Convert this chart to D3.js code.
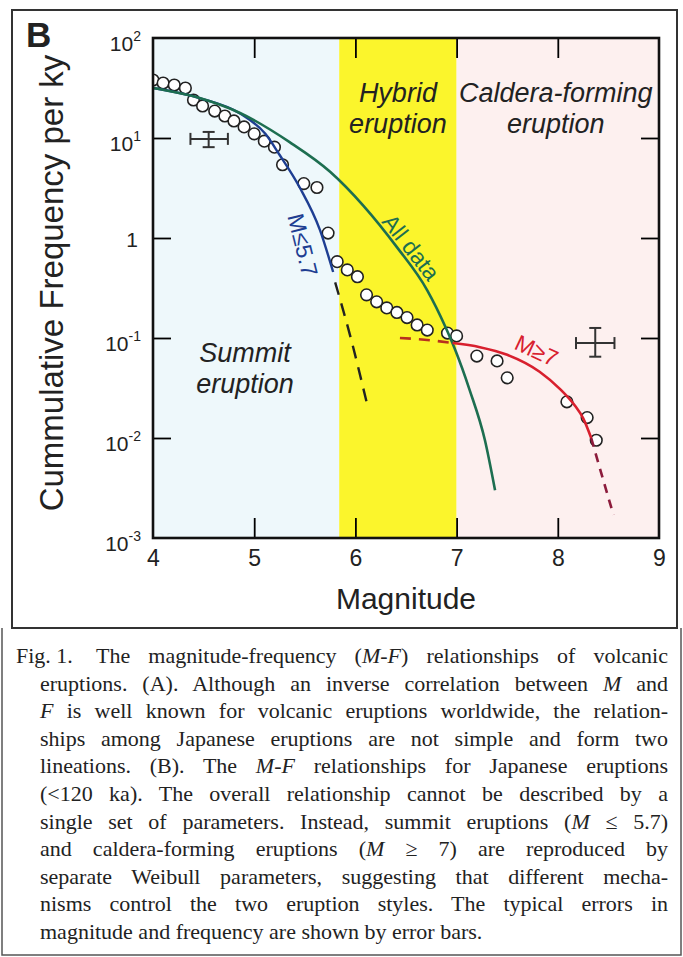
<!DOCTYPE html>
<html>
<head>
<meta charset="utf-8">
<script src="https://cdn.jsdelivr.net/npm/d3@7"></script>
<style>
body { margin: 0; background: #fff; }
svg { display: block; }
</style>
</head>
<body>
<div id="chartsArea"></div>
<script>
// axis ticks
var xTicks = [4, 5, 6, 7, 8, 9];
var yTicks = [1e-3, 1e-2, 1e-1, 1, 1e1, 1e2];

// eruption style regions (magnitude)
var regionStart = [4, 5.84, 7];
var regionEnd = [5.84, 7, 9];

// observed cumulative frequencies
var obsM = [4.00, 4.10, 4.21, 4.32, 4.40, 4.49, 4.61, 4.71, 4.80, 4.90, 5.00, 5.10, 5.20, 5.28, 5.49, 5.62,
	5.73, 5.82, 5.92, 6.02, 6.11, 6.21, 6.31, 6.41, 6.51, 6.61, 6.71, 6.91, 7.00, 7.20, 7.40, 7.50, 8.09, 8.29, 8.38];
var obsF = [38.0, 35.5, 33.9, 31.6, 24.0, 20.9, 18.6, 16.6, 14.8, 12.9, 11.0, 9.3, 8.1, 5.4, 3.5, 3.2,
	1.12, 0.58, 0.48, 0.41, 0.27, 0.23, 0.20, 0.18, 0.16, 0.135, 0.12, 0.112, 0.105, 0.066, 0.059, 0.040, 0.023, 0.016, 0.0095];

// fitted curves
var allM = [4.00, 4.46, 4.86, 5.35, 5.75, 6.08, 6.41, 6.71, 6.89, 6.98, 7.13, 7.28, 7.38];
var allF = [31.6, 25.1, 17.8, 9.1, 4.6, 2.1, 0.81, 0.30, 0.129, 0.079, 0.030, 0.0095, 0.0030];

var summitM = [4.00, 4.46, 4.86, 5.11, 5.25, 5.45, 5.65, 5.78];
var summitF = [31.6, 25.1, 17.6, 11.0, 6.8, 3.2, 1.2, 0.457];
var summitExtM = [5.80, 5.96, 6.11];
var summitExtF = [0.36, 0.095, 0.023];

var calderaLowM = [6.44, 6.74, 6.96];
var calderaLowF = [0.100, 0.095, 0.089];
var calderaM = [6.96, 7.23, 7.50, 7.82, 8.02, 8.17, 8.25, 8.33];
var calderaF = [0.089, 0.081, 0.068, 0.046, 0.031, 0.021, 0.0158, 0.0100];
var calderaHighM = [8.33, 8.42, 8.55];
var calderaHighF = [0.0100, 0.0048, 0.0017];

// typical errors
var errM = [4.55, 8.37];
var errMLo = [4.37, 8.18];
var errMHi = [4.74, 8.56];
var errF = [9.8, 0.089];
var errFLo = [8.1, 0.065];
var errFHi = [11.5, 0.126];

// caption, one entry per printed line; |...| parts are italic
var caption = [
	"The magnitude-frequency (|M-F|) relationships of volcanic",
	"eruptions. (A). Although an inverse correlation between |M| and",
	"|F| is well known for volcanic eruptions worldwide, the relation-",
	"ships among Japanese eruptions are not simple and form two",
	"lineations. (B). The |M-F| relationships for Japanese eruptions",
	"(<120 ka). The overall relationship cannot be described by a",
	"single set of parameters. Instead, summit eruptions (|M| \u2264 5.7)",
	"and caldera-forming eruptions (|M| \u2265 7) are reproduced by",
	"separate Weibull parameters, suggesting that different mecha-",
	"nisms control the two eruption styles. The typical errors in",
	"magnitude and frequency are shown by error bars."
];

var makeChart = function() {

	var W = 683, H = 957;
	var plot = {left: 153, top: 38, width: 506, height: 500};

	var svg = d3.select("#chartsArea").append("svg")
		.attr("width", W)
		.attr("height", H)
		.attr("font-family", "'Liberation Sans', Arial, sans-serif");

	var x = d3.scaleLinear().domain([4, 9]).range([plot.left, plot.left + plot.width]);
	var y = d3.scaleLog().domain([1e-3, 1e2]).range([plot.top + plot.height, plot.top]);

	// frames
	svg.append("rect").attr("x", 12).attr("y", 10).attr("width", 665).attr("height", 618)
		.attr("fill", "none").attr("stroke", "#333").attr("stroke-width", 2);
	svg.append("path").attr("d", "M2,628V955H681V628")
		.attr("fill", "none").attr("stroke", "#555").attr("stroke-width", 1.5);

	svg.append("text").attr("x", 26).attr("y", 47)
		.attr("font-size", 35).attr("font-weight", "bold").attr("fill", "#222").text("B");

	// regions
	var regionColor = ["#eef8fb", "#fbf52c", "#fdf0ef"];
	svg.append("g").selectAll("rect")
		.data(regionStart)
		.enter().append("rect")
		.attr("x", function(d) { return x(d); })
		.attr("y", plot.top)
		.attr("width", function(d, i) { return x(regionEnd[i]) - x(d); })
		.attr("height", plot.height)
		.attr("fill", function(d, i) { return regionColor[i]; });

	svg.append("clipPath").attr("id", "clip")
		.append("rect").attr("x", plot.left).attr("y", plot.top)
		.attr("width", plot.width).attr("height", plot.height);

	// region labels
	var regionLabel = function(cx, y1, l1, l2) {
		var t = svg.append("text")
			.attr("font-size", 27).attr("font-style", "italic")
			.attr("text-anchor", "middle").attr("fill", "#222");
		t.append("tspan").attr("x", cx).attr("y", y1).text(l1);
		t.append("tspan").attr("x", cx).attr("y", y1 + 31).text(l2);
	};
	regionLabel(x(6.42), 102, "Hybrid", "eruption");
	regionLabel(x(7.98), 102, "Caldera-forming", "eruption");
	regionLabel(x(4.91), 362, "Summit", "eruption");

	// observed points
	var g = svg.append("g").attr("clip-path", "url(#clip)");
	g.append("g").selectAll("circle")
		.data(obsM)
		.enter().append("circle")
		.attr("cx", function(d) { return x(d); })
		.attr("cy", function(d, i) { return y(obsF[i]); })
		.attr("r", 5.8)
		.attr("fill", "#fff")
		.attr("stroke", "#222")
		.attr("stroke-width", 1.6);

	var line = d3.line()
		.x(function(d) { return x(d[0]); })
		.y(function(d) { return y(d[1]); })
		.curve(d3.curveMonotoneX);

	var drawCurve = function(ms, fs, color, width, dash) {
		var p = g.append("path")
			.datum(d3.zip(ms, fs))
			.attr("d", line)
			.attr("fill", "none")
			.attr("stroke", color)
			.attr("stroke-width", width);
		if (dash) p.attr("stroke-dasharray", dash);
	};
	drawCurve(summitExtM, summitExtF, "#222", 2.4, "13,9");
	drawCurve(calderaLowM, calderaLowF, "#b8301e", 2.6, "11,8");
	drawCurve(calderaHighM, calderaHighF, "#8c1c3c", 2.6, "9,7");
	drawCurve(summitM, summitF, "#1e3e92", 2.4);
	drawCurve(allM, allF, "#1d6e50", 2.6);
	drawCurve(calderaM, calderaF, "#d8202e", 2.6);

	// curve labels
	var curveLabel = function(px, py, angle, txt, color) {
		svg.append("text")
			.attr("transform", "translate(" + px + "," + py + ") rotate(" + angle + ")")
			.attr("text-anchor", "middle").attr("dy", "0.35em")
			.attr("font-size", 23).attr("fill", color).text(txt);
	};
	curveLabel(x(5.48), y(0.85), 76, "M\u22645.7", "#1e3e92");
	curveLabel(x(6.55), y(0.81), 52, "All data", "#1d6e50");
	curveLabel(x(7.79), y(0.075), 25, "M\u22657", "#d8202e");

	// error bars
	var eb = svg.append("g").attr("stroke", "#333").attr("stroke-width", 2);
	errM.forEach(function(m, i) {
		var cy = y(errF[i]), cx = x(m);
		eb.append("line").attr("x1", x(errMLo[i])).attr("x2", x(errMHi[i])).attr("y1", cy).attr("y2", cy);
		eb.append("line").attr("x1", x(errMLo[i])).attr("x2", x(errMLo[i])).attr("y1", cy - 6).attr("y2", cy + 6);
		eb.append("line").attr("x1", x(errMHi[i])).attr("x2", x(errMHi[i])).attr("y1", cy - 6).attr("y2", cy + 6);
		eb.append("line").attr("x1", cx).attr("x2", cx).attr("y1", y(errFLo[i])).attr("y2", y(errFHi[i]));
		eb.append("line").attr("x1", cx - 6).attr("x2", cx + 6).attr("y1", y(errFLo[i])).attr("y2", y(errFLo[i]));
		eb.append("line").attr("x1", cx - 6).attr("x2", cx + 6).attr("y1", y(errFHi[i])).attr("y2", y(errFHi[i]));
	});

	// axes with inward ticks
	var inner = xTicks.slice(1, -1), innerY = yTicks.slice(1, -1);
	svg.append("g").attr("transform", "translate(0," + (plot.top + plot.height) + ")")
		.call(d3.axisBottom(x).tickValues(xTicks).tickSizeInner(-20).tickSizeOuter(0).tickPadding(12).tickFormat(d3.format("d")))
		.call(function(a) {
			a.select(".domain").remove();
			a.selectAll(".tick line").attr("stroke-width", 1.8).attr("display", function(d) { return inner.indexOf(d) < 0 ? "none" : null; });
			a.selectAll("text").attr("font-size", 23).attr("fill", "#222").attr("font-family", null);
		});
	svg.append("g").attr("transform", "translate(0," + plot.top + ")")
		.call(d3.axisTop(x).tickValues(inner).tickSizeInner(-20).tickSizeOuter(0).tickFormat(""))
		.call(function(a) {
			a.select(".domain").remove();
			a.selectAll(".tick line").attr("stroke-width", 1.8);
		});
	svg.append("g").attr("transform", "translate(" + (plot.left + plot.width) + ",0)")
		.call(d3.axisRight(y).tickValues(innerY).tickSizeInner(-18).tickSizeOuter(0).tickFormat(""))
		.call(function(a) {
			a.select(".domain").remove();
			a.selectAll(".tick line").attr("stroke-width", 1.8);
		});
	svg.append("g").attr("transform", "translate(" + plot.left + ",0)")
		.call(d3.axisLeft(y).tickValues(yTicks).tickSizeInner(-18).tickSizeOuter(0).tickPadding(12))
		.call(function(a) {
			a.select(".domain").remove();
			a.selectAll(".tick line").attr("stroke-width", 1.8).attr("display", function(d) { return innerY.indexOf(d) < 0 ? "none" : null; });
			a.selectAll("text").each(function(d) {
				var t = d3.select(this).text("").attr("fill", "#222").attr("font-family", null)
					.attr("dy", null).attr("font-size", 21);
				var e = Math.round(Math.log10(d));
				if (e === 0) {
					t.attr("x", -15).attr("y", 8).text("1");
				} else {
					t.attr("x", -12).attr("y", 12);
					t.append("tspan").text("10");
					t.append("tspan").attr("font-size", 14).attr("dy", -10).text(e);
				}
			});
		});

	svg.append("rect").attr("x", plot.left).attr("y", plot.top)
		.attr("width", plot.width).attr("height", plot.height)
		.attr("fill", "none").attr("stroke", "#111").attr("stroke-width", 2.6);

	// axis titles
	svg.append("text").attr("x", x(6.5)).attr("y", 609)
		.attr("text-anchor", "middle").attr("font-size", 30).attr("fill", "#222").text("Magnitude");
	svg.append("text").attr("transform", "translate(63,283) rotate(-90)")
		.attr("text-anchor", "middle").attr("font-size", 33).attr("fill", "#222")
		.text("Cummulative Frequency per ky");

	// caption
	var cap = svg.append("g").attr("font-family", "'Liberation Serif', 'Times New Roman', serif")
		.attr("font-size", 22).attr("fill", "#222");
	cap.append("text").attr("x", 16).attr("y", 663).text("Fig. 1.");
	caption.forEach(function(s, i) {
		var x0 = (i === 0) ? 96 : 40, right = 668;
		var t = cap.append("text").attr("x", x0).attr("y", 663 + i * 27.6).attr("xml:space", "preserve");
		s.split("|").forEach(function(part, k) {
			var ts = t.append("tspan").text(part);
			if (k % 2) ts.attr("font-style", "italic");
		});
		if (i < caption.length - 1) {
			var w = t.node().getComputedTextLength();
			var spaces = s.split(" ").length - 1;
			t.attr("word-spacing", ((right - x0) - w) / spaces);
		}
	});
};

makeChart();
</script>
</body>
</html>
